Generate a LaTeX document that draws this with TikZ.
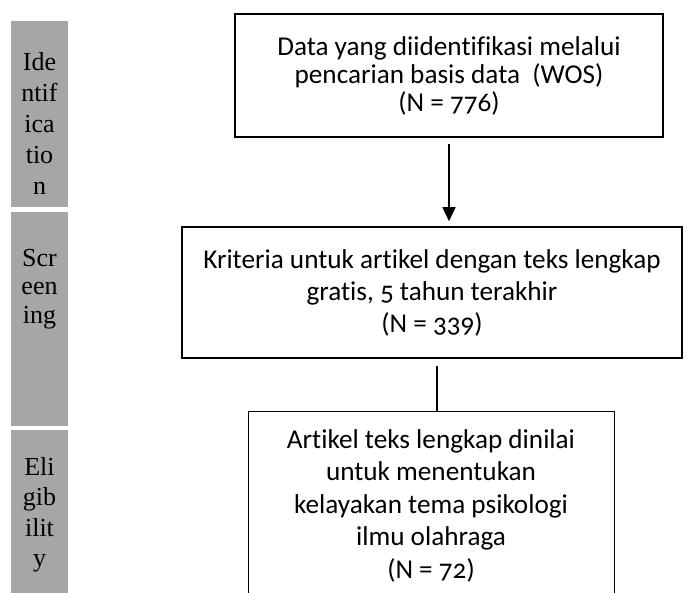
\documentclass[tikz,border=0pt]{standalone}
\usepackage{fontspec}
\setmainfont{Liberation Serif}
\newfontfamily\boxfont[Numbers=OldStyle, Ligatures=NoCommon]{Carlito}
\usetikzlibrary{arrows.meta}

\definecolor{stagegray}{HTML}{A6A6A6}

\tikzset{
    stagelbl/.style={align=center, inner sep=0pt, font=\fontsize{26}{30.5}\selectfont},
    flowbox/.style={draw, line width=1.6pt, align=center, inner sep=0pt,
        font=\boxfont\fontsize{27.2}{28}\selectfont},
}

\begin{document}
\begin{tikzpicture}[x=1pt, y=-1pt]
    \useasboundingbox (0,0) rectangle (691,593);
    \clip (0,0) rectangle (691,593);

    % Stage bars on the left
    \fill[stagegray] (11,21) rectangle (68,207);
    \node[stagelbl, font=\fontsize{26}{31}\selectfont] (ident) at (39.5,123) {Ide\\ntif\\ica\\tio\\n};
    \fill[stagegray] (11,212) rectangle (68,426);
    \node[stagelbl, font=\fontsize{26}{28.5}\selectfont] (screen) at (39.5,289) {Scr\\een\\ing};
    \fill[stagegray] (11,430) rectangle (68,600);
    \node[stagelbl] (elig) at (39.5,515) {Eli\\gib\\ilit\\y};

    % Flow boxes
    \node[flowbox, minimum width=428pt, minimum height=123pt] (found) at (449,75.5)
        {Data yang diidentifikasi melalui\\pencarian basis data~ (WOS)\\(N = 776)};
    \node[flowbox, minimum width=500pt, minimum height=131pt,
        font=\boxfont\fontsize{27.2}{32}\selectfont] (crit) at (432,292.5)
        {Kriteria untuk artikel dengan teks lengkap\\gratis, 5 tahun terakhir\\(N = 339)};
    \node[flowbox, line width=1pt, minimum width=366pt, minimum height=188pt,
        font=\boxfont\fontsize{27.2}{32.5}\selectfont, anchor=north] (full) at (431,411)
        {Artikel teks lengkap dinilai\\untuk menentukan\\kelayakan tema psikologi\\ilmu olahraga\\(N = 72)};

    % Connectors
    \draw[line width=1.6pt, -{Triangle[width=13pt,length=14pt]}, shorten <=6pt, shorten >=5pt]
        (found.south) -- (found.south |- crit.north);
    \draw[line width=1.6pt] ([xshift=5pt,yshift=-7pt]crit.south) -- ([xshift=5pt]crit.south |- full.north);
\end{tikzpicture}
\end{document}
